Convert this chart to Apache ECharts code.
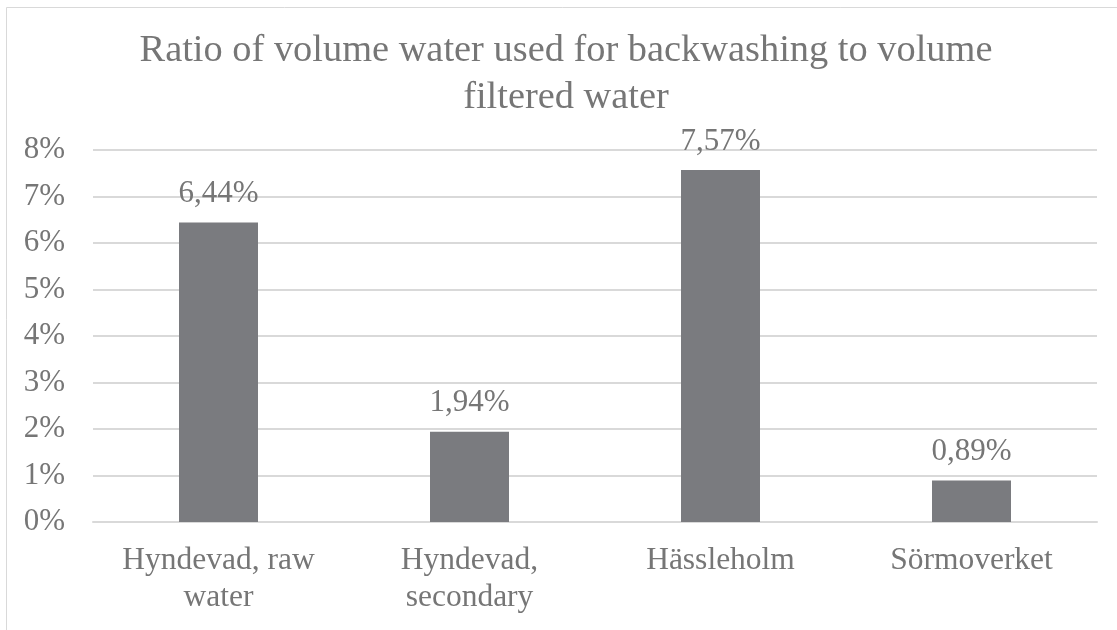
<!DOCTYPE html>
<html>
<head>
<meta charset="utf-8">
<script src="https://cdn.jsdelivr.net/npm/echarts@6/dist/echarts.min.js"></script>
<style>
  html, body { margin: 0; padding: 0; background: #fff; }
  #chart { width: 1117px; height: 630px; }
</style>
</head>
<body>
<div id="chart"></div>
<script>
const categories = ["Hyndevad, raw\nwater", "Hyndevad,\nsecondary", "Hässleholm", "Sörmoverket"];
const ratios = [6.44, 1.94, 7.57, 0.89]; // percent
const yTicks = [0, 1, 2, 3, 4, 5, 6, 7, 8];

const textColor = "#767676";
const fontFamily = "Liberation Serif";

const chart = echarts.init(document.getElementById("chart"));

chart.setOption({
  backgroundColor: "#fff",
  textStyle: { fontFamily: fontFamily },
  graphic: [
    {
      // chart area border, cut off at right and bottom
      type: "rect",
      shape: { x: 6.5, y: 7.5, width: 1200, height: 700 },
      style: { fill: null, stroke: "#d9d9d9", lineWidth: 1 }
    }
  ],
  title: {
    text: "Ratio of volume water used for backwashing to volume\nfiltered water",
    left: 561,
    textAlign: "center",
    top: 22,
    textStyle: {
      fontFamily: fontFamily,
      fontWeight: "normal",
      fontSize: 38.4,
      color: textColor,
      lineHeight: 47
    }
  },
  grid: {
    left: 93,
    right: 20,
    top: 150,
    bottom: 108,
    containLabel: false
  },
  xAxis: {
    type: "category",
    data: categories,
    axisLine: { show: true, lineStyle: { color: "#d9d9d9", width: 2 } },
    axisTick: { show: false },
    axisLabel: {
      color: textColor,
      fontFamily: fontFamily,
      fontSize: 31.5,
      lineHeight: 37,
      margin: 20,
      interval: 0
    }
  },
  yAxis: {
    type: "value",
    min: 0,
    max: yTicks[yTicks.length - 1],
    interval: 1,
    axisLine: { show: false },
    axisTick: { show: false },
    splitLine: { lineStyle: { color: "#d9d9d9", width: 2 } },
    axisLabel: {
      color: textColor,
      fontFamily: fontFamily,
      fontSize: 31,
      margin: 28,
      formatter: "{value}%"
    }
  },
  series: [
    {
      type: "bar",
      data: ratios,
      barWidth: 79,
      itemStyle: { color: "#7a7b7f" },
      label: {
        show: true,
        position: "top",
        distance: 13,
        color: textColor,
        fontSize: 31,
        fontFamily: fontFamily,
        formatter: (p) => p.value.toFixed(2).replace(".", ",") + "%"
      }
    }
  ]
});
</script>
</body>
</html>
